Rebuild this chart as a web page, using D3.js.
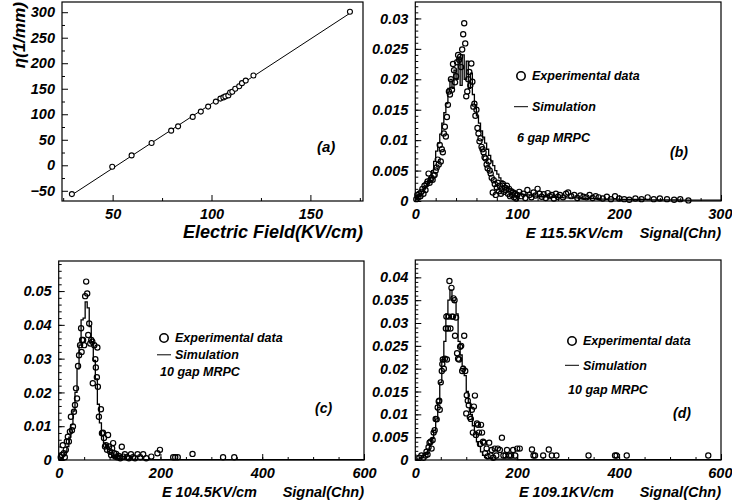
<!DOCTYPE html>
<html><head><meta charset="utf-8">
<script src="https://cdn.jsdelivr.net/npm/d3@7"></script>
<style>
body{margin:0;background:#fff}
svg text{font-family:"Liberation Sans",Arial,sans-serif;font-weight:bold;font-style:italic;fill:#000}
</style></head><body><svg id="c" width="732" height="504"></svg>
<script>
// ---------- Panel (a): eta vs electric field ----------
const aField = [29.4,49.8,59.6,69.7,79.6,83.1,90.5,94.6,98.3,102.2,104.5,106,107,108.5,109.4,110.5,112,114,115.4,117.3,121.2,170];
const aEta   = [-56.5,-2.8,19.4,43.7,67.9,76.3,94.8,105.2,115,124.8,130.7,133,135,137,142.5,144,150,155,161,166,176,300.8];
const aFitField = [30,170];
const aFitEta = [-56.5,298];
const aXTicks = [50,100,150], aXMinor = [25,75,125,175];
const aYTicks = [-50,0,50,100,150,200,250,300], aYMinor = [-25,25,75,125,175,225,275];

// ---------- Panel (b): 6 gap, 115.5 kV/cm ----------
const bExp = [[1,0.0003],[2,0.0010],[3,0.0006],[4,0.0012],[5,0.0008],[6,0.0015],[7,0.0020],[8,0.0012],[9,0.0025],[10,0.0018],[11,0.0028],[12,0.0032],[13,0.0045],[14,0.0030],[15,0.0035],[16,0.0038],[17,0.0035],[18,0.0042],[19,0.0043],[20,0.0050],[21,0.0055],[22,0.0068],[23,0.0060],[24,0.0092],[25,0.0065],[26,0.0085],[27,0.0080],[28,0.0111],[29,0.0122],[30,0.0106],[31,0.0138],[32,0.0158],[33,0.0180],[34,0.0175],[35,0.0200],[36,0.0183],[37,0.0225],[38,0.0215],[39,0.0195],[40,0.0205],[41,0.0228],[42,0.0240],[43,0.0232],[44,0.0237],[45,0.0220],[46,0.0249],[47,0.0274],[48,0.0292],[49,0.0259],[50,0.0172],[51,0.0180],[52,0.0200],[53,0.0212],[54,0.0190],[55,0.0226],[56,0.0196],[57,0.0155],[58,0.0160],[59,0.0140],[60,0.0150],[61,0.0120],[62,0.0111],[63,0.0098],[64,0.0103],[65,0.0089],[66,0.0085],[67,0.0080],[68,0.0072],[69,0.0070],[70,0.0060],[71,0.0054],[72,0.0065],[73,0.0050],[74,0.0045],[75,0.0038],[76,0.0014],[77,0.0034],[78,0.0028],[79,0.0010],[80,0.0022],[81,0.0030],[82,0.0016],[83,0.0025],[84,0.0012],[85,0.0020],[86,0.0028],[87,0.0015],[88,0.0022],[89,0.0018],[90,0.0025],[91,0.0012],[92,0.0020],[93,0.0008],[94,0.0016],[95,0.0010],[96,0.0014],[97,0.0006],[98,0.0012],[99,0.0004],[100,0.0010],[102,0.0015],[104,0.0008],[106,0.0012],[108,0.0005],[110,0.0018],[112,0.0010],[114,0.0006],[116,0.0014],[118,0.0009],[120,0.0020],[122,0.0012],[124,0.0007],[126,0.0011],[128,0.0005],[130,0.0013],[132,0.0008],[134,0.0010],[136,0.0004],[138,0.0012],[140,0.0007],[142,0.0010],[145,0.0006],[148,0.0012],[150,0.0014],[153,0.0008],[156,0.0010],[159,0.0005],[162,0.0009],[165,0.0007],[168,0.0006],[171,0.0010],[174,0.0005],[177,0.0008],[180,0.0006],[184,0.0004],[188,0.0007],[192,0.0003],[196,0.0008],[200,0.0004],[205,0.0003],[210,0.0002],[216,0.0004],[222,0.0003],[228,0.0006],[234,0.0003],[240,0.0004],[247,0.0003],[254,0.0002],[260,0.0003],[268,0.0001]];
const bSim = [[0,0.0004],[2,0.0008],[4,0.0012],[6,0.0016],[8,0.0020],[10,0.0025],[12,0.0030],[14,0.0038],[16,0.0050],[18,0.0065],[20,0.0082],[22,0.0095],[24,0.0110],[26,0.0128],[28,0.0145],[30,0.0160],[32,0.0185],[34,0.0200],[36,0.0185],[38,0.0215],[40,0.0200],[42,0.0235],[44,0.0190],[46,0.0240],[48,0.0200],[50,0.0230],[52,0.0185],[54,0.0210],[56,0.0175],[58,0.0158],[60,0.0140],[62,0.0128],[64,0.0115],[66,0.0105],[68,0.0095],[70,0.0085],[72,0.0075],[74,0.0066],[76,0.0058],[78,0.0050],[80,0.0044],[82,0.0038],[84,0.0033],[86,0.0029],[88,0.0025],[90,0.0022],[92,0.0020],[94,0.0018],[96,0.0016],[98,0.0014],[100,0.0013],[104,0.0011],[108,0.0010],[114,0.0008],[120,0.0007],[130,0.0006],[145,0.0005],[160,0.0004],[180,0.0003],[200,0.00025],[230,0.0002],[260,0.00015],[300,0.00015]];
const bXTicks = [0,100,200,300], bXMinor = d3.range(20,300,20);
const bYTicks = [0,0.005,0.01,0.015,0.02,0.025,0.03], bYMinor = d3.range(0.001,0.0325,0.001);

// ---------- Panel (c): 10 gap, 104.5 kV/cm ----------
const cExp = [[4,0.0008],[6,0.0015],[8,0.0044],[10,0.0020],[12,0.0008],[14,0.0030],[16,0.0055],[18,0.0069],[20,0.0055],[22,0.0084],[24,0.0128],[26,0.0088],[28,0.0099],[30,0.0143],[32,0.0163],[34,0.0212],[36,0.0182],[38,0.0278],[40,0.0310],[42,0.0340],[44,0.0390],[45,0.0320],[46,0.0355],[48,0.0355],[50,0.0340],[52,0.0485],[54,0.0528],[56,0.0493],[58,0.0370],[60,0.0404],[62,0.0345],[64,0.0355],[66,0.0350],[67,0.0227],[70,0.0340],[72,0.0298],[73,0.0274],[75,0.0245],[76,0.0333],[77,0.0217],[79,0.0128],[83,0.0150],[85,0.0079],[87,0.0081],[89,0.0065],[91,0.0040],[93,0.0044],[95,0.0030],[97,0.0074],[99,0.0040],[101,0.0025],[103,0.0015],[105,0.0035],[107,0.0050],[109,0.0020],[111,0.0010],[113,0.0018],[115,0.0008],[118,0.0012],[121,0.0005],[124,0.0039],[127,0.0010],[130,0.0017],[134,0.0008],[138,0.0005],[142,0.0017],[146,0.0008],[150,0.0005],[155,0.0017],[160,0.0008],[166,0.0017],[172,0.0005],[182,0.0010],[194,0.0020],[199,0.0030],[225,0.0008],[229,0.0008],[234,0.0008],[263,0.0018],[323,0.0008],[345,0.0008]];
const cSim = [[0,0.0002],[4,0.0005],[8,0.0012],[12,0.0022],[16,0.0040],[20,0.0068],[24,0.0105],[28,0.0145],[32,0.0200],[36,0.0270],[40,0.0340],[44,0.0415],[48,0.0420],[52,0.0468],[56,0.0450],[60,0.0395],[64,0.0350],[68,0.0295],[72,0.0240],[76,0.0165],[80,0.0110],[84,0.0072],[88,0.0050],[92,0.0038],[96,0.0025],[100,0.0017],[104,0.0011],[108,0.0007],[112,0.0004],[120,0.0002],[160,0.0001],[600,0.0001]];
const cXTicks = [0,200,400,600], cXMinor = d3.range(50,600,50);
const cYTicks = [0,0.01,0.02,0.03,0.04,0.05], cYMinor = d3.range(0.002,0.0585,0.002);

// ---------- Panel (d): 10 gap, 109.1 kV/cm ----------
const dExp = [[8,0.0005],[12,0.0010],[16,0.0005],[20,0.0010],[22,0.0018],[24,0.0012],[26,0.0028],[28,0.0038],[30,0.0040],[32,0.0025],[34,0.0044],[36,0.0060],[38,0.0065],[40,0.0090],[42,0.0089],[44,0.0115],[46,0.0128],[47,0.0130],[48,0.0110],[50,0.0170],[52,0.0195],[53,0.0210],[54,0.0220],[56,0.0200],[58,0.0222],[60,0.0288],[61,0.0314],[62,0.0220],[64,0.0288],[66,0.0314],[67,0.0392],[69,0.0288],[71,0.0377],[72,0.0314],[74,0.0314],[75,0.0354],[77,0.0350],[78,0.0272],[80,0.0312],[82,0.0234],[84,0.0222],[86,0.0220],[88,0.0248],[90,0.0250],[92,0.0195],[94,0.0200],[96,0.0272],[98,0.0195],[100,0.0102],[101,0.0142],[103,0.0130],[105,0.0120],[107,0.0094],[109,0.0090],[111,0.0110],[113,0.0060],[115,0.0117],[117,0.0141],[119,0.0055],[121,0.0080],[123,0.0077],[125,0.0060],[127,0.0035],[129,0.0077],[131,0.0060],[133,0.0040],[135,0.0038],[137,0.0015],[140,0.0025],[142,0.0008],[145,0.0038],[148,0.0010],[150,0.0022],[153,0.0005],[156,0.0025],[159,0.0010],[162,0.0025],[166,0.0022],[170,0.0049],[173,0.0010],[177,0.0010],[180,0.0022],[184,0.0010],[188,0.0010],[192,0.0022],[196,0.0010],[200,0.0025],[205,0.0025],[229,0.0023],[232,0.0010],[235,0.0010],[251,0.0010],[262,0.0023],[268,0.0010],[277,0.0010],[340,0.0010],[392,0.0010],[395,0.0010],[415,0.0010],[575,0.0010]];
const dSim = [[0,0.0001],[4,0.0002],[8,0.0004],[12,0.0006],[16,0.0010],[20,0.0016],[24,0.0024],[28,0.0035],[32,0.0047],[36,0.0065],[40,0.0090],[44,0.0125],[48,0.0170],[52,0.0220],[56,0.0260],[60,0.0320],[64,0.0350],[68,0.0372],[72,0.0350],[76,0.0345],[80,0.0320],[84,0.0260],[88,0.0230],[92,0.0205],[96,0.0185],[100,0.0150],[104,0.0125],[108,0.0100],[112,0.0075],[116,0.0060],[120,0.0040],[124,0.0030],[128,0.0018],[132,0.0010],[136,0.0005],[140,0.0003],[150,0.0002],[200,0.0001],[600,0.0001]];
const dXTicks = [0,200,400,600], dXMinor = d3.range(50,600,50);
const dYTicks = [0,0.005,0.01,0.015,0.02,0.025,0.03,0.035,0.04], dYMinor = d3.range(0.001,0.0435,0.001);

const svg = d3.select("#c");
const fmt = d => d === 0 ? "0" : String(+d.toFixed(4));

function panel(o){
  const g = svg.append("g");
  const x = d3.scaleLinear().domain(o.xd).range([o.l,o.r]);
  const y = d3.scaleLinear().domain(o.yd).range([o.b,o.t]);
  const style = sel => { sel.select(".domain").remove(); sel.selectAll("line").attr("stroke-width",1); sel.selectAll("text").style("font-size","14.5px"); };
  g.append("g").attr("transform",`translate(${o.l},0)`)
    .call(d3.axisLeft(y).tickValues(o.ym).tickSize(-3).tickFormat("")).call(style);
  g.append("g").attr("transform",`translate(${o.l},0)`)
    .call(d3.axisLeft(y).tickValues(o.yt).tickSize(-6).tickPadding(7).tickFormat(o.yf||fmt)).call(style);
  g.append("g").attr("transform",`translate(0,${o.b})`)
    .call(d3.axisBottom(x).tickValues(o.xm).tickSize(-3).tickFormat("")).call(style);
  const xa = g.append("g").attr("transform",`translate(0,${o.b})`)
    .call(d3.axisBottom(x).tickValues(o.xt).tickSize(-6).tickPadding(8).tickFormat(d3.format("d"))).call(style);
  if (o.edge) xa.selectAll(".tick text").filter(d => d === o.xd[1]).attr("text-anchor","end").attr("dx","11");
  g.append("rect").attr("x",o.l).attr("y",o.t).attr("width",o.r-o.l).attr("height",o.b-o.t)
    .attr("fill","none").attr("stroke","#000").attr("stroke-width",1.2);
  return {g,x,y};
}

function drawHist(p, sim, exp){
  const line = d3.line().x(d=>p.x(d[0])).y(d=>p.y(d[1])).curve(d3.curveStepAfter);
  p.g.append("path").attr("d",line(sim)).attr("fill","none").attr("stroke","#000").attr("stroke-width",1.3);
  p.g.append("g").selectAll("circle").data(exp).join("circle")
    .attr("cx",d=>p.x(d[0])).attr("cy",d=>p.y(d[1])).attr("r",2.6)
    .attr("fill","none").attr("stroke","#000").attr("stroke-width",1.2);
}

function legend(g, cx, cy, dy, gapText){
  g.append("circle").attr("cx",cx+4).attr("cy",cy).attr("r",4.2).attr("fill","none").attr("stroke","#000").attr("stroke-width",1.6);
  g.append("text").attr("x",cx+15).attr("y",cy).attr("dy","0.35em").style("font-size","12.5px").text("Experimental data");
  g.append("line").attr("x1",cx-3).attr("x2",cx+11).attr("y1",cy+dy).attr("y2",cy+dy).attr("stroke","#000").attr("stroke-width",1);
  g.append("text").attr("x",cx+15).attr("y",cy+dy).attr("dy","0.35em").style("font-size","12.5px").text("Simulation");
  g.append("text").attr("x",cx).attr("y",cy+2*dy).attr("dy","0.35em").style("font-size","12.5px").text(gapText);
}

// Panel (a)
const pa = panel({l:62,r:363,t:2,b:201,xd:[24.4,176.6],yd:[-70,320],xt:aXTicks,xm:aXMinor,yt:aYTicks,ym:aYMinor,yf:d3.format("d")});
pa.g.append("path").attr("d", d3.line().x(d=>pa.x(d[0])).y(d=>pa.y(d[1]))(aFitField.map((f,i)=>[f,aFitEta[i]])))
  .attr("fill","none").attr("stroke","#000").attr("stroke-width",1);
pa.g.append("g").selectAll("circle").data(aField.map((f,i)=>[f,aEta[i]])).join("circle")
  .attr("cx",d=>pa.x(d[0])).attr("cy",d=>pa.y(d[1])).attr("r",2.5)
  .attr("fill","#fff").attr("stroke","#000").attr("stroke-width",1.1);
pa.g.append("text").attr("x",363).attr("y",238).attr("text-anchor","end").style("font-size","18px").text("Electric Field(KV/cm)");
pa.g.append("text").attr("transform","translate(25,2) rotate(-90)").attr("text-anchor","end").style("font-size","17px").text("η(1/mm)");
pa.g.append("text").attr("x",317).attr("y",147).attr("dy","0.35em").style("font-size","15px").text("(a)");

// Panel (b)
const pb = panel({l:415.3,r:721,t:2,b:201,xd:[0,300],yd:[0,0.0327],xt:bXTicks,xm:bXMinor,yt:bYTicks,ym:bYMinor,edge:true});
drawHist(pb, bSim, bExp);
legend(pb.g, 517, 76, 30.7, "6 gap MRPC");
pb.g.append("text").attr("x",670).attr("y",152).attr("dy","0.35em").style("font-size","14px").text("(b)");
pb.g.append("text").attr("x",623).attr("y",238).attr("text-anchor","end").style("font-size","15px").text("E 115.5KV/cm");
pb.g.append("text").attr("x",721).attr("y",238).attr("text-anchor","end").style("font-size","14.5px").text("Signal(Chn)");

// Panel (c)
const pc = panel({l:58.7,r:364,t:261,b:460,xd:[0,600],yd:[0,0.0589],xt:cXTicks,xm:cXMinor,yt:cYTicks,ym:cYMinor});
drawHist(pc, cSim, cExp);
legend(pc.g, 160, 338, 16.8, "10 gap MRPC");
pc.g.append("text").attr("x",315).attr("y",408).attr("dy","0.35em").style("font-size","14px").text("(c)");
pc.g.append("text").attr("x",257).attr("y",497).attr("text-anchor","end").style("font-size","14.5px").text("E 104.5KV/cm");
pc.g.append("text").attr("x",364).attr("y",497).attr("text-anchor","end").style("font-size","14.5px").text("Signal(Chn)");

// Panel (d)
const pd = panel({l:415.3,r:721,t:260,b:460,xd:[0,600],yd:[0,0.0438],xt:dXTicks,xm:dXMinor,yt:dYTicks,ym:dYMinor,edge:true});
drawHist(pd, dSim, dExp);
legend(pd.g, 568, 341, 24.3, "10 gap MRPC");
pd.g.append("text").attr("x",673).attr("y",413).attr("dy","0.35em").style("font-size","14px").text("(d)");
pd.g.append("text").attr("x",614).attr("y",497).attr("text-anchor","end").style("font-size","14.5px").text("E 109.1KV/cm");
pd.g.append("text").attr("x",721).attr("y",497).attr("text-anchor","end").style("font-size","14.5px").text("Signal(Chn)");
</script></body></html>
